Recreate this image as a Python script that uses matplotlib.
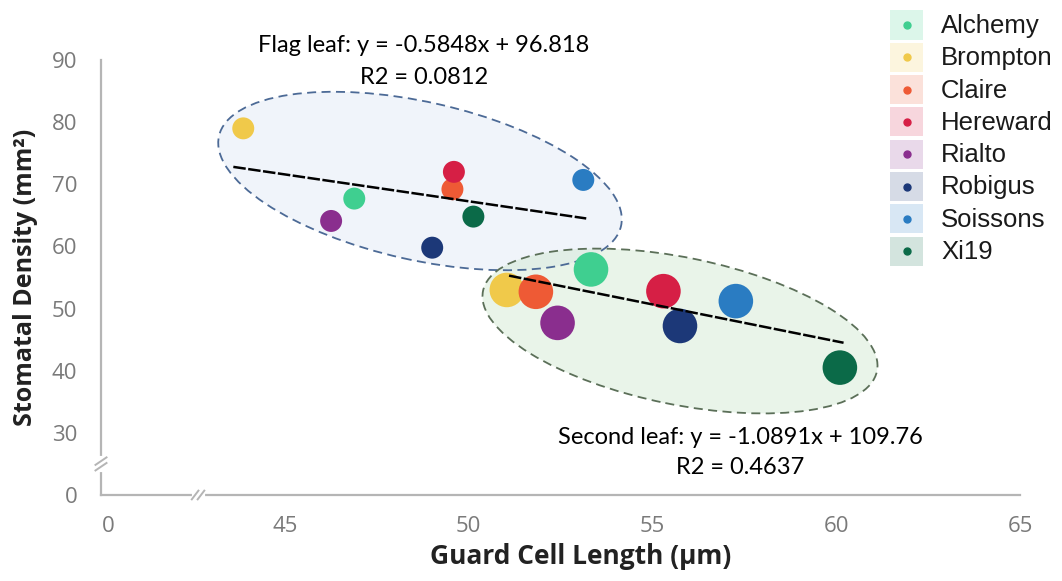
import matplotlib
matplotlib.use("Agg")
import matplotlib.pyplot as plt
from matplotlib.patches import Ellipse, Rectangle
from matplotlib.lines import Line2D

# ---------------- data ----------------
varieties = ["Alchemy", "Brompton", "Claire", "Hereward", "Rialto", "Robigus", "Soissons", "Xi19"]
colors = ["#3fcf90", "#f0c94a", "#ee5a35", "#d61f45", "#8a2e8e", "#1c3878", "#2a7cc2", "#0b6a48"]

flag_x = [46.89, 43.87, 49.56, 49.60, 46.26, 49.01, 53.12, 50.13]
flag_y = [67.7, 79.0, 69.2, 72.0, 64.1, 59.8, 70.7, 64.8]

second_x = [53.33, 51.04, 51.83, 55.30, 52.42, 55.75, 57.27, 60.10]
second_y = [56.3, 53.0, 52.7, 52.8, 47.7, 47.2, 51.2, 40.5]

flag_trend_x = [43.6, 53.2]
flag_trend_y = [72.8, 64.5]
second_trend_x = [51.1, 60.2]
second_trend_y = [55.3, 44.5]

x_ticks = [40.2, 45, 50, 55, 60, 65]
x_ticklabels = ["0", "45", "50", "55", "60", "65"]
y_ticks = [20, 30, 40, 50, 60, 70, 80, 90]
y_ticklabels = ["0", "30", "40", "50", "60", "70", "80", "90"]

flag_eq = "Flag leaf: y = -0.5848x + 96.818"
flag_r2 = "R2 = 0.0812"
second_eq = "Second leaf: y = -1.0891x + 109.76"
second_r2 = "R2 = 0.4637"

# ---------------- figure ----------------
W, H = 1062, 581
fig = plt.figure(figsize=(W / 100, H / 100), dpi=100)
L, R, T, B = 101, 1020, 60, 495
ax = fig.add_axes([L / W, 1 - B / H, (R - L) / W, (B - T) / H])
ax.set_xlim(40, 65)
ax.set_ylim(20, 90)
ax.patch.set_alpha(0)

axis_col = "#b5b5b5"
for s in ["top", "right"]:
    ax.spines[s].set_visible(False)
for s in ["left", "bottom"]:
    ax.spines[s].set_color(axis_col)
    ax.spines[s].set_linewidth(1.6)

tick_font = dict(family="Open Sans", size=16, color="#7a7a7a")
ax.set_xticks(x_ticks)
ax.set_xticklabels(x_ticklabels, **tick_font)
ax.set_yticks(y_ticks)
ax.set_yticklabels(y_ticklabels, **tick_font)
ax.tick_params(axis="both", length=0)
ax.tick_params(axis="x", pad=15)
ax.tick_params(axis="y", pad=17)

fig.text(581 / W, 1 - 556 / H, "Guard Cell Length (µm)", family="Open Sans", weight="bold",
         size=19, color="#222222", ha="center", va="center")
ax.set_ylabel("Stomatal Density (mm²)", family="Open Sans", weight="bold", size=18,
              color="#222222", labelpad=10)

# ellipses (defined in pixel-based inches), drawn inside the axes
inch = fig.dpi_scale_trans
def pix(px, py):
    return (px / 100, (H - py) / 100)

ell_specs = [
    (pix(420, 181), 4.12, 1.58, -12.6, "#dfe8f5", "#4c6a96"),
    (pix(680, 331), 4.02, 1.47, -11.5, "#cfe8cf", "#5b6f58"),
]
for c, w, h, a, fc, ec in ell_specs:
    ax.add_patch(Ellipse(c, w, h, angle=a, transform=inch, facecolor=fc, alpha=0.45,
                         edgecolor="none", zorder=1, clip_on=False))
for c, w, h, a, fc, ec in ell_specs:
    ax.add_patch(Ellipse(c, w, h, angle=a, transform=inch, facecolor="none", edgecolor=ec,
                         linestyle=(0, (5, 3)), linewidth=1.3, zorder=2, clip_on=False))

# points
ax.scatter(flag_x, flag_y, s=250, c=colors, edgecolors="none", zorder=3)
ax.scatter(second_x, second_y, s=620, c=colors, edgecolors="none", zorder=3)

# trend lines
ax.plot(flag_trend_x, flag_trend_y, color="black", linestyle=(0, (5, 1)), linewidth=1.8, zorder=4)
ax.plot(second_trend_x, second_trend_y, color="black", linestyle=(0, (5, 1)), linewidth=1.8, zorder=4)

# annotations
ann_font = dict(family="Lato", size=17, color="black", ha="center", va="center")
fig.text(424 / W, 1 - 45 / H, flag_eq, **ann_font)
fig.text(424 / W, 1 - 77 / H, flag_r2, **ann_font)
fig.text(740 / W, 1 - 437 / H, second_eq, **ann_font)
fig.text(740 / W, 1 - 468 / H, second_r2, **ann_font)

# axis breaks
def brk_x(xc):
    ax.plot([xc - 0.12, xc + 0.12], [20, 20], color="white", linewidth=3, clip_on=False, zorder=5)
    for dx in (-0.09, 0.07):
        ax.plot([xc + dx - 0.09, xc + dx + 0.09], [19.3, 20.7], color=axis_col, linewidth=1.4,
                clip_on=False, zorder=6)

def brk_y(yc):
    ax.plot([40, 40], [yc - 0.9, yc + 0.9], color="white", linewidth=3, clip_on=False, zorder=5)
    for dy in (-0.45, 0.45):
        ax.plot([39.85, 40.15], [yc + dy - 0.6, yc + dy + 0.6], color=axis_col, linewidth=1.4,
                clip_on=False, zorder=6)

brk_x(42.65)
brk_y(25.0)

# legend (manual, figure pixels)
row0, pitch = 25, 32.3
for i, (name, col) in enumerate(zip(varieties, colors)):
    yc = row0 + i * pitch
    fig.add_artist(Rectangle((890 / W, 1 - (yc + 14.5) / H), 33 / W, 29 / H,
                             transform=fig.transFigure, facecolor=col, alpha=0.18,
                             edgecolor="none"))
    fig.add_artist(Line2D([907 / W], [1 - yc / H], marker="o", markersize=5, color=col,
                          transform=fig.transFigure, linestyle="none"))
    fig.text(941 / W, 1 - (yc + 1) / H, name, family="Liberation Sans", size=18.5,
             color="#1a1a1a", ha="left", va="center")

fig.savefig("out.png", dpi=100)
